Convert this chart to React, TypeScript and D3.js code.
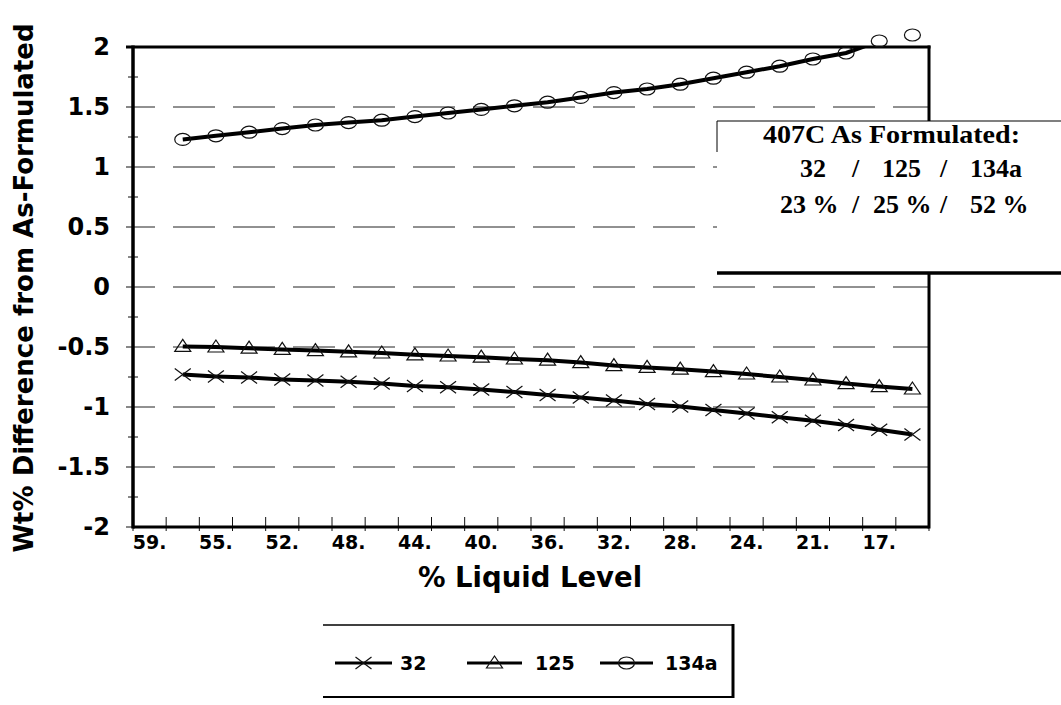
import React from 'react';
import * as d3 from 'd3';

// % liquid level categories (only every other one is labelled on the axis)
const levels = ['59.', '57.', '55.', '53.', '52.', '50.', '48.', '46.', '44.', '42.', '40.', '38.',
  '36.', '34.', '32.', '30.', '28.', '26.', '24.', '22.', '21.', '19.', '17.', '15.'];

// wt% difference from as-formulated, first category has no reading
const r32 = [null, -0.73, -0.745, -0.755, -0.77, -0.78, -0.79, -0.805, -0.825, -0.835, -0.855, -0.875,
  -0.9, -0.92, -0.945, -0.975, -0.995, -1.025, -1.055, -1.085, -1.115, -1.15, -1.19, -1.23];
const r125 = [null, -0.495, -0.5, -0.51, -0.52, -0.53, -0.54, -0.55, -0.565, -0.575, -0.585, -0.6,
  -0.61, -0.63, -0.655, -0.67, -0.685, -0.705, -0.725, -0.75, -0.775, -0.805, -0.83, -0.85];
const r134a = [null, 1.23, 1.26, 1.29, 1.32, 1.35, 1.37, 1.39, 1.42, 1.45, 1.48, 1.51,
  1.54, 1.58, 1.62, 1.65, 1.69, 1.74, 1.79, 1.84, 1.9, 1.95, 2.05, 2.1];

const yTicks = [2, 1.5, 1, 0.5, 0, -0.5, -1, -1.5, -2];
const yMinor = [1.75, 1.25, 0.75, 0.25, -0.25, -0.75, -1.25, -1.75];
const gridVals = [1.5, 1, 0.5, 0, -0.5, -1, -1.5];

const seriesNames = ['32', '125', '134a'];
const markerKinds = ['x', 'tri', 'circ'];

const left = 133, right = 929, top = 47, bottom = 527;
const axisFont = '"DejaVu Sans", Arial, sans-serif';
const serif = '"Liberation Serif", "Times New Roman", serif';

const Marker = ({ kind, x, y }: { kind: string; x: number; y: number }) => {
  if (kind === 'x') {
    return <path d={`M${x - 8},${y - 6}L${x + 8},${y + 6}M${x - 8},${y + 6}L${x + 8},${y - 6}`}
      stroke="#111" strokeWidth={1.2} fill="none" />;
  }
  if (kind === 'tri') {
    return <path d={`M${x},${y - 7}L${x + 8},${y + 5}L${x - 8},${y + 5}Z`}
      stroke="#111" strokeWidth={1.2} fill="none" />;
  }
  return <ellipse cx={x} cy={y} rx={8} ry={6} stroke="#111" strokeWidth={1.2} fill="none" />;
};

const App = () => {
  const x = d3.scaleBand().domain(levels).range([left, right]).paddingInner(0).paddingOuter(0);
  const bw = x.bandwidth();
  const cx = (c: string) => (x(c) as number) + bw / 2;
  const y = d3.scaleLinear().domain([-2, 2]).range([bottom, top]);

  const series = [r32, r125, r134a];
  const line = d3.line<number | null>()
    .defined((d) => d != null)
    .x((d, i) => cx(levels[i]))
    .y((d) => y(d as number));

  const boundaries = levels.map((c) => x(c) as number).concat([right]);

  // legend layout
  const legend = [
    { x1: 335, x2: 392, tx: 400 },
    { x1: 467, x2: 522, tx: 535 },
    { x1: 600, x2: 653, tx: 665 },
  ];
  const ly = 663;

  return (
    <svg width={1061} height={705} style={{ position: 'absolute', left: 0, top: 0, background: '#fff' }}>
      <defs>
        <clipPath id="plot">
          <rect x={left} y={top} width={right - left} height={bottom - top} />
        </clipPath>
      </defs>

      {/* gridlines */}
      {gridVals.map((v) => (
        <line key={'g' + v} x1={left} x2={right} y1={y(v)} y2={y(v)} stroke="#222" strokeWidth={1}
          strokeDasharray="42 18" strokeDashoffset={20} />
      ))}

      {/* y ticks */}
      {yTicks.map((v) => (
        <line key={'yt' + v} x1={left - 7} x2={left} y1={y(v)} y2={y(v)} stroke="#111" strokeWidth={1} />
      ))}
      {yMinor.map((v) => (
        <line key={'ym' + v} x1={left - 5} x2={left + 5} y1={y(v)} y2={y(v)} stroke="#111" strokeWidth={1} />
      ))}
      {yTicks.map((v) => (
        <text key={'yl' + v} x={110} y={y(v) - 1} dy="0.36em" textAnchor="end" fontFamily={axisFont}
          fontWeight="bold" fontSize={24} fill="#000">{String(v)}</text>
      ))}

      {/* x ticks */}
      {boundaries.map((bx, i) => (
        <line key={'xt' + i} x1={bx} x2={bx} y1={bottom - 10} y2={bottom + 4} stroke="#111" strokeWidth={1} />
      ))}
      {levels.map((c, i) => (i % 2 === 0 ? (
        <text key={'xl' + c} x={cx(c)} y={549} textAnchor="middle" fontFamily={axisFont}
          fontWeight="bold" fontSize={19} fill="#000">{c}</text>
      ) : null))}

      {/* series lines */}
      <g clipPath="url(#plot)">
        {series.map((s, i) => (
          <path key={'l' + i} d={line(s) || ''} fill="none" stroke="#000" strokeWidth={4} />
        ))}
      </g>

      {/* frame */}
      <line x1={left - 7} x2={right + 1.5} y1={top} y2={top} stroke="#000" strokeWidth={3} />
      <line x1={left} x2={right} y1={bottom} y2={bottom} stroke="#000" strokeWidth={3} />
      <line x1={left} x2={left} y1={top - 1.5} y2={bottom + 1.5} stroke="#000" strokeWidth={3.5} />
      <line x1={right} x2={right} y1={top - 1.5} y2={bottom + 1.5} stroke="#000" strokeWidth={3} />

      {/* markers */}
      {series.map((s, i) => s.map((v, j) => (v == null ? null : (
        <Marker key={'m' + i + '-' + j} kind={markerKinds[i]} x={cx(levels[j])} y={y(v)} />
      ))))}

      {/* composition note */}
      <rect x={717} y={121} width={350} height={152} fill="#fff" />
      <line x1={717} x2={1061} y1={121} y2={121} stroke="#000" strokeWidth={1.2} />
      <line x1={717} x2={717} y1={121} y2={152} stroke="#000" strokeWidth={1} />
      <line x1={717} x2={1061} y1={273} y2={273} stroke="#000" strokeWidth={3.5} />
      <text x={763} y={143} fontFamily={serif} fontWeight="bold" fontSize={26} fill="#000"
        textLength={257} lengthAdjust="spacingAndGlyphs">407C As Formulated:</text>
      <g fontFamily={serif} fontWeight="bold" fontSize={26} fill="#000">
        <text x={800} y={177}>32</text>
        <text x={852} y={177}>/</text>
        <text x={882} y={177}>125</text>
        <text x={940} y={177}>/</text>
        <text x={970} y={177}>134a</text>
        <text x={780} y={213}>23 %</text>
        <text x={852} y={213}>/</text>
        <text x={873} y={213}>25 %</text>
        <text x={940} y={213}>/</text>
        <text x={970} y={213}>52 %</text>
      </g>

      {/* axis titles */}
      <text transform="translate(33,288) rotate(-90)" textAnchor="middle" fontFamily={axisFont}
        fontWeight="bold" fontSize={26} fill="#000">Wt% Difference from As-Formulated</text>
      <text x={530} y={587} textAnchor="middle" fontFamily={axisFont} fontWeight="bold" fontSize={27.5}
        fill="#000">% Liquid Level</text>

      {/* legend */}
      <line x1={323} x2={733} y1={625} y2={625} stroke="#000" strokeWidth={1.5} />
      <line x1={323} x2={733} y1={697} y2={697} stroke="#000" strokeWidth={2} />
      <line x1={733} x2={733} y1={624} y2={698} stroke="#000" strokeWidth={3} />
      {seriesNames.map((n, i) => (
        <g key={'lg' + n}>
          <line x1={legend[i].x1} x2={legend[i].x2} y1={ly} y2={ly} stroke="#000" strokeWidth={3} />
          <Marker kind={markerKinds[i]} x={(legend[i].x1 + legend[i].x2) / 2} y={ly} />
          <text x={legend[i].tx} y={ly + 7} fontFamily={axisFont} fontWeight="bold" fontSize={19}
            fill="#000">{n}</text>
        </g>
      ))}
    </svg>
  );
};

export default App;
